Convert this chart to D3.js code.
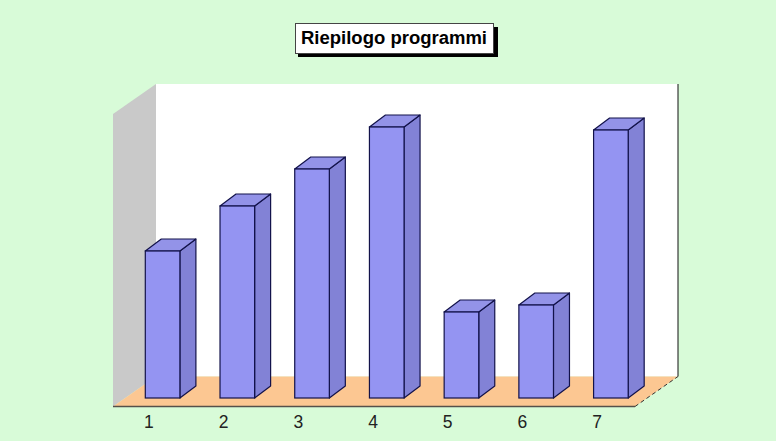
<!DOCTYPE html>
<html><head><meta charset="utf-8">
<script src="https://cdn.jsdelivr.net/npm/d3@7"></script>
<style>html,body{margin:0;padding:0;background:#d8fbd8}svg{display:block}text{font-family:"Liberation Sans",Arial,sans-serif}</style>
</head><body><div id="chart"></div>
<script>
const categories = ["1","2","3","4","5","6","7"];
const values = [147,192,229,271,86,93,268];
const titleText = "Riepilogo programmi";

const W = 776, H = 441;
const svg = d3.select("#chart").append("svg").attr("width",W).attr("height",H);
const x = d3.scaleBand().domain(categories).range([113,636]);
const y = d3.scaleLinear().domain([0,284]).range([398,114]);
const depth = {dx:43, dy:-30}, barDepth = {dx:16, dy:-12};
const axisY = 406.5, topY = 114, barInset = 32.3, barW = 34.6, axisEnd = 635;
const pts = a => a.map(p=>p.join(",")).join(" ");

svg.append("rect").attr("width",W).attr("height",H).attr("fill","#d8fbd8");
// back wall
svg.append("rect").attr("x",113+depth.dx).attr("y",topY+depth.dy)
  .attr("width",axisEnd-113).attr("height",axisY-topY).attr("fill","#ffffff");
// left wall
svg.append("polygon").attr("fill","#c9c9c9").attr("points",pts([
  [113,topY],[113+depth.dx,topY+depth.dy],[113+depth.dx,axisY+depth.dy],[113,axisY]]));
// floor
svg.append("polygon").attr("fill","#fcc792").attr("points",pts([
  [113,axisY],[113+depth.dx,axisY+depth.dy],[axisEnd+depth.dx,axisY+depth.dy],[axisEnd,axisY]]));
// right edge + floor dashed edge
svg.append("line").attr("x1",axisEnd+depth.dx).attr("x2",axisEnd+depth.dx).attr("y1",topY+depth.dy).attr("y2",axisY+depth.dy)
  .attr("stroke","#111").attr("stroke-width",1);
svg.append("line").attr("x1",axisEnd).attr("y1",axisY).attr("x2",axisEnd+depth.dx).attr("y2",axisY+depth.dy)
  .attr("stroke","#333").attr("stroke-width",1).attr("stroke-dasharray","4 3");
// axis
const axis = d3.axisBottom(x).tickSize(0).tickPadding(9.5);
const gAxis = svg.append("g").attr("transform",`translate(-1.5,${axisY})`).call(axis);
gAxis.select(".domain").remove();
gAxis.selectAll("text").attr("font-size",17.5).attr("fill","#222").style("font-family",'"Liberation Sans",Arial,sans-serif');
svg.append("line").attr("x1",113).attr("x2",axisEnd).attr("y1",axisY).attr("y2",axisY).attr("stroke","#55504a").attr("stroke-width",1.5);

// bars
const bars = svg.append("g").selectAll("g").data(categories.map((c,i)=>({c,v:values[i]}))).join("g");
const stroke = "#12124a";
bars.append("polygon").attr("fill","#8282d6").attr("stroke",stroke).attr("stroke-width",1.2).attr("stroke-linejoin","round")
  .attr("points",d=>{const x1=x(d.c)+barInset+barW,t=y(d.v),b=y(0);
    return pts([[x1,t],[x1+barDepth.dx,t+barDepth.dy],[x1+barDepth.dx,b+barDepth.dy],[x1,b]]);});
bars.append("polygon").attr("fill","#9393e8").attr("stroke",stroke).attr("stroke-width",1.2).attr("stroke-linejoin","round")
  .attr("points",d=>{const x0=x(d.c)+barInset,t=y(d.v);
    return pts([[x0,t],[x0+barDepth.dx,t+barDepth.dy],[x0+barW+barDepth.dx,t+barDepth.dy],[x0+barW,t]]);});
bars.append("rect").attr("fill","#9494f2").attr("stroke",stroke).attr("stroke-width",1.2)
  .attr("x",d=>x(d.c)+barInset).attr("y",d=>y(d.v)).attr("width",barW).attr("height",d=>y(0)-y(d.v));

// title
svg.append("rect").attr("x",298).attr("y",27).attr("width",200).attr("height",30).attr("fill","#000");
svg.append("rect").attr("x",295.5).attr("y",23.5).attr("width",198).attr("height",30).attr("fill","#fff").attr("stroke","#444").attr("stroke-width",1);
svg.append("text").attr("x",394).attr("y",43.5).attr("text-anchor","middle").attr("font-size",17.5).attr("font-weight","bold").attr("fill","#000")
  .attr("textLength",186).attr("lengthAdjust","spacingAndGlyphs").text(titleText);
</script></body></html>
